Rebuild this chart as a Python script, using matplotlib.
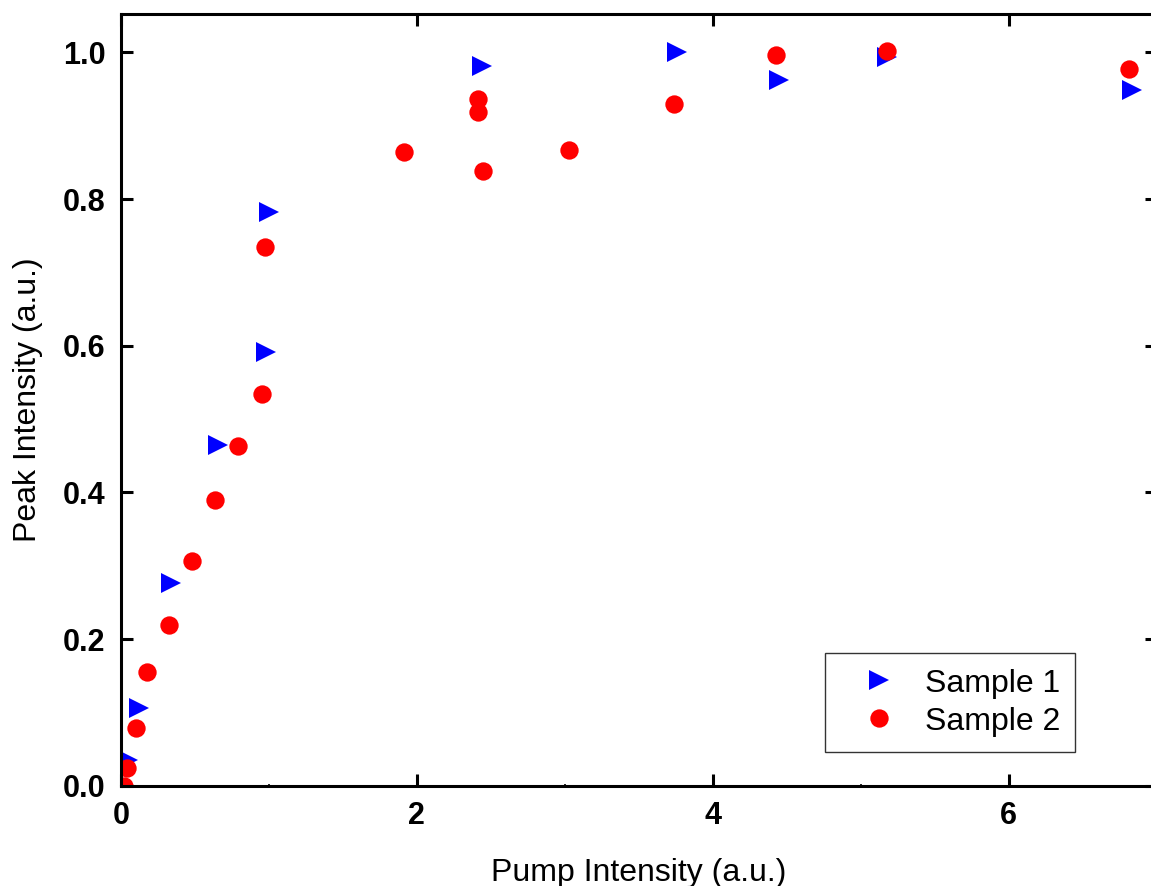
import matplotlib
matplotlib.use("Agg")
import matplotlib.pyplot as plt
from matplotlib.ticker import MultipleLocator

plt.rcParams['font.family'] = ['Liberation Sans', 'DejaVu Sans']

# Sample 1 (blue triangles)
s1_x = [0.00, 0.05, 0.12, 0.34, 0.655, 0.98, 1.00, 2.44, 3.76, 4.45, 5.18, 6.83]
s1_y = [0.005, 0.035, 0.106, 0.277, 0.465, 0.592, 0.782, 0.982, 1.000, 0.962, 0.993, 0.948]

# Sample 2 (red circles)
s2_x = [0.02, 0.04, 0.10, 0.178, 0.322, 0.48, 0.635, 0.79, 0.957, 0.977,
        1.91, 2.41, 2.415, 2.45, 3.03, 3.735, 4.43, 5.175, 6.81]
s2_y = [0.0, 0.025, 0.079, 0.155, 0.219, 0.306, 0.39, 0.464, 0.534, 0.734,
        0.864, 0.937, 0.918, 0.838, 0.867, 0.929, 0.997, 1.002, 0.977]

fig = plt.figure(figsize=(11.51, 8.86), dpi=100)
ax = fig.add_axes([0.105, 0.113, 0.9, 0.871])

ax.plot(s1_x, s1_y, linestyle='none', marker='>', markersize=15,
        color='#0000ff', markeredgewidth=0, label='Sample 1')
ax.plot(s2_x, s2_y, linestyle='none', marker='o', markersize=13.2,
        color='#ff0000', markeredgewidth=0, label='Sample 2')

ax.set_xlim(0, 7)
ax.set_ylim(0, 1.052)
ax.xaxis.set_major_locator(MultipleLocator(2))
ax.xaxis.set_minor_locator(MultipleLocator(1))
ax.yaxis.set_major_locator(MultipleLocator(0.2))
ax.yaxis.set_minor_locator(MultipleLocator(0.1))
ax.yaxis.set_major_formatter(matplotlib.ticker.FormatStrFormatter('%.1f'))

for sp in ax.spines.values():
    sp.set_linewidth(2.2)
ax.tick_params(which='major', direction='in', length=8.6, width=2.2,
               top=True, right=True, labelsize=22, pad=11)
ax.tick_params(which='minor', direction='in', length=1.5, width=1.2,
               top=True, right=True)
for lab in ax.get_xticklabels() + ax.get_yticklabels():
    lab.set_fontweight('bold')

ax.set_xlabel('Pump Intensity (a.u.)', fontsize=23, labelpad=19)
ax.set_ylabel('Peak Intensity (a.u.)', fontsize=23, labelpad=14)

leg = ax.legend(loc='lower left', bbox_to_anchor=(0.6795, 0.044),
                fontsize=23, frameon=True, fancybox=False,
                edgecolor='black', borderpad=0.48, handletextpad=0.2,
                labelspacing=0.25, borderaxespad=0, handlelength=2.45)
leg.get_frame().set_linewidth(1.0)

fig.savefig('out.png', dpi=100)
